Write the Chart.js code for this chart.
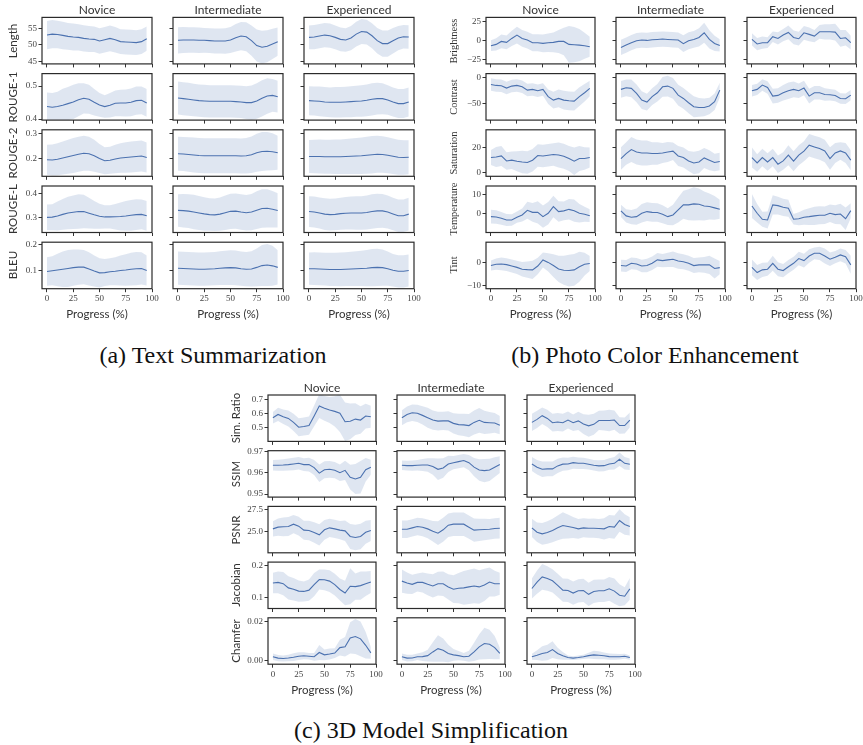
<!DOCTYPE html>
<html><head><meta charset="utf-8">
<script src="https://cdn.jsdelivr.net/npm/chart.js@4.4.1/dist/chart.umd.min.js"></script>
<style>
html,body{margin:0;padding:0;background:#fff;}
#root{position:relative;width:863px;height:745px;overflow:hidden;background:#fff;}
canvas{position:absolute;}
.t{position:absolute;white-space:nowrap;color:#333;transform:translate(-50%,-50%);line-height:1;}
.r{position:absolute;white-space:nowrap;color:#333;transform:translate(-50%,-50%) rotate(-90deg);line-height:1;}
</style></head>
<body><div id="root"></div>
<script>
const progress = [0,5,10,15,20,25,30,35,40,45,50,55,60,65,70,75,80,85,90,95];
const levels = ['Novice','Intermediate','Experienced'];
const xTicks = [0,25,50,75,100];
const xTickLabels = ['0','25','50','75','100'];

// ---------- (a) Text Summarization ----------
const lengthNovice = [53.0,53.3,53.2,52.9,52.6,52.4,52.3,52.0,51.8,51.7,51.2,51.6,52.0,51.6,51.0,50.9,50.8,50.7,51.0,51.9];
const lengthNoviceSd = [4.3,4.3,4.2,4.2,4.1,4.1,4.0,4.0,4.0,3.9,3.9,3.9,3.9,3.9,3.8,3.8,3.8,3.8,3.8,3.7];
const lengthInter = [51.4,51.5,51.5,51.5,51.4,51.4,51.3,51.2,51.2,51.2,51.5,52.2,52.7,52.5,51.3,49.8,49.3,49.6,50.3,51.0];
const lengthInterSd = [4.0,4.0,3.9,3.9,3.9,3.8,3.8,3.8,3.8,3.9,4.0,4.2,4.3,4.4,4.6,4.9,5.0,4.9,4.6,4.3];
const lengthExp = [52.3,52.4,52.7,53.0,52.8,52.3,51.7,51.5,52.1,53.3,54.1,53.9,52.8,51.3,50.4,50.4,51.3,52.1,52.5,52.4];
const lengthExpSd = [3.6,3.7,3.7,3.7,3.7,3.6,3.6,3.6,3.7,3.8,3.8,3.8,3.8,3.9,4.0,4.0,3.9,3.7,3.6,3.6];

const rouge1Novice = [.438,.436,.438,.442,.447,.452,.459,.463,.460,.451,.443,.438,.442,.448,.449,.449,.451,.456,.457,.449];
const rouge1NoviceSd = [.043,.043,.045,.050,.050,.052,.050,.046,.044,.040,.036,.034,.037,.039,.040,.041,.042,.043,.042,.042];
const rouge1Inter = [.464,.462,.460,.458,.456,.455,.454,.454,.454,.454,.454,.453,.452,.450,.450,.455,.463,.470,.472,.468];
const rouge1InterSd = [.050,.050,.050,.049,.049,.049,.049,.049,.049,.049,.049,.049,.049,.050,.052,.054,.055,.054,.050,.048];
const rouge1Exp = [.456,.455,.454,.452,.451,.451,.451,.452,.453,.454,.455,.457,.460,.462,.462,.458,.452,.447,.447,.452];
const rouge1ExpSd = [.044,.044,.045,.045,.045,.046,.046,.046,.047,.047,.048,.048,.049,.048,.047,.045,.044,.044,.044,.044];

const rouge2Novice = [.196,.195,.198,.203,.208,.213,.218,.222,.220,.212,.201,.192,.194,.199,.203,.205,.207,.209,.211,.205];
const rouge2NoviceSd = [.060,.062,.064,.066,.068,.070,.070,.070,.068,.064,.058,.054,.054,.057,.059,.061,.062,.062,.062,.060];
const rouge2Inter = [.220,.219,.217,.215,.213,.212,.212,.212,.212,.212,.212,.212,.211,.212,.216,.224,.229,.230,.228,.224];
const rouge2InterSd = [.068,.068,.069,.070,.070,.070,.070,.070,.070,.070,.070,.070,.070,.071,.073,.076,.078,.077,.074,.068];
const rouge2Exp = [.209,.209,.209,.208,.208,.208,.208,.209,.210,.211,.212,.214,.216,.218,.217,.214,.210,.206,.205,.206];
const rouge2ExpSd = [.066,.067,.068,.068,.068,.069,.069,.070,.071,.072,.073,.074,.075,.074,.073,.072,.071,.070,.069,.068];

const rougeLNovice = [.299,.300,.305,.312,.318,.321,.324,.324,.317,.310,.304,.301,.301,.302,.303,.305,.308,.311,.312,.306];
const rougeLNoviceSd = [.055,.056,.062,.066,.070,.072,.074,.072,.066,.060,.054,.050,.050,.055,.060,.064,.066,.066,.064,.064];
const rougeLInter = [.329,.328,.326,.322,.318,.314,.311,.310,.313,.319,.325,.326,.322,.319,.322,.330,.337,.338,.334,.329];
const rougeLInterSd = [.070,.072,.073,.074,.073,.072,.070,.070,.072,.074,.076,.076,.076,.076,.078,.081,.083,.082,.079,.074];
const rougeLExp = [.324,.322,.318,.313,.311,.312,.315,.317,.318,.318,.318,.320,.324,.327,.327,.322,.314,.306,.306,.313];
const rougeLExpSd = [.066,.067,.067,.068,.068,.068,.069,.070,.071,.072,.072,.073,.074,.074,.073,.071,.070,.070,.070,.070];

const bleuNovice = [.097,.100,.103,.106,.109,.112,.114,.114,.107,.099,.092,.093,.096,.098,.101,.103,.106,.108,.109,.101];
const bleuNoviceSd = [.055,.056,.063,.068,.071,.070,.068,.066,.064,.060,.056,.052,.052,.054,.058,.061,.063,.064,.062,.058];
const bleuInter = [.110,.109,.108,.107,.106,.106,.107,.108,.110,.111,.112,.111,.108,.106,.107,.113,.120,.122,.119,.113];
const bleuInterSd = [.064,.064,.064,.064,.064,.064,.064,.064,.065,.066,.067,.067,.066,.066,.068,.073,.079,.081,.077,.066];
const bleuExp = [.108,.108,.107,.106,.105,.105,.105,.106,.107,.108,.109,.110,.112,.113,.112,.108,.102,.098,.098,.101];
const bleuExpSd = [.062,.063,.063,.063,.064,.064,.065,.065,.066,.067,.068,.070,.072,.072,.070,.066,.063,.062,.062,.062];

// ---------- (b) Photo Color Enhancement ----------
const brightnessNovice = [-6.5,-4.8,-0.9,-2.2,3.0,7.4,3.0,0.9,-2.6,-2.6,-3.5,-2.6,-2.2,-0.9,-0.9,-4.8,-5.2,-5.7,-6.5,-7.8];
const brightnessNoviceSd = [7,8,9,9,10,11,11,11,11,11,11.5,12,13,15,18,24,23,21,17,13];
const brightnessInter = [-8.7,-5.7,-2.6,0,0.9,0.4,1.3,1.7,2.2,1.7,1.3,0.9,-3.9,0,1.7,4.3,10.4,1.7,-3.5,-6.1];
const brightnessInterSd = [10,10,10,10,10,10,10,10,10,10,10,10,11,11,11,12,13,12,10,8];
const brightnessExp = [1.7,-4.3,-2.6,-2.6,5.2,3.0,7.4,10.9,4.3,2.6,10.4,8.3,6.1,11.7,11.7,11.7,11.3,3.0,3.9,-2.6];
const brightnessExpSd = [8,8,8,7,7,8,8,9,9,9,9,9,8,9,10,10,11,11,10,9];

const contrastNovice = [-13.5,-15.4,-16,-20.5,-16.7,-15.4,-18,-24.4,-23,-25.6,-23,-37,-43.6,-40.4,-43.6,-44.9,-45.5,-37,-29.5,-21.2];
const contrastNoviceSd = [12,12,12,12,12,12,12,12,12,12,12,14,16,17,18,18,18,18,17,15];
const contrastInter = [-23,-20,-21,-30.8,-43.6,-47.4,-37,-29.5,-18,-16.7,-21,-34,-40.4,-48.7,-56.4,-57.7,-57.7,-55,-46.8,-24.4];
const contrastInterSd = [16,16,17,17,17,16,16,17,19,20,20,20,20,20,20,18,17,16,16,14];
const contrastExp = [-25.6,-23,-14.7,-19.2,-35.9,-34.6,-29.5,-25.6,-23,-25.6,-20.5,-35.9,-29.5,-29.5,-32.7,-33.3,-34.6,-40.4,-41,-34];
const contrastExpSd = [11,11,11,12,14,14,15,16,15,14,14,14,13,13,12,11,11,10,10,10];

const saturationNovice = [12,12.5,13.3,9.3,9.9,9.1,8.5,8,9.9,13.6,13.3,13.9,14.4,14.1,13.1,11.2,9.1,11.2,11.2,12];
const saturationNoviceSd = [6,8,8,7,7,8,9,9,9,9,9,9,9,10,10,10,11,10,9,8];
const saturationInter = [11.2,15.2,18.4,16.5,15.7,15.7,15.2,15.2,15.7,16.5,17.1,13.3,12,9.3,7.7,8.5,11.7,9.9,8,8.8];
const saturationInterSd = [9,9,10,10,10,10,9,9,8,8,7,8,8,8,9,9,8,8,7,7];
const saturationExp = [12,7.7,12,8.5,12,6.7,9.3,13.9,9.1,13.9,17.1,21.9,20.5,19.2,17.3,11.2,15.7,17.3,15.7,9.9];
const saturationExpSd = [8,7,7,7,7,7,7,8,8,8,8,9,9,9,9,9,8,7,8,8];

const temperatureNovice = [-1.8,-2,-2.7,-3.6,-3.6,-2.1,-0.9,1.6,0.5,0.5,-1.8,0,3.6,0.9,1.3,2.1,1.4,0,-0.5,-1.3];
const temperatureNoviceSd = [3.7,3.6,3.4,3.2,3.1,3.0,3.5,4.5,5,6,6,6,5.8,5.5,5,5.5,6,5,4,3.4];
const temperatureInter = [1.3,-1.4,-2.1,-1.8,0,0.9,0.5,0.4,-0.5,-1.8,-0.9,1.8,4.5,4.5,5,4.8,3.9,3.6,2.9,2.1];
const temperatureInterSd = [3.3,3.5,3.8,4.3,4.9,5,5,5,4.8,4.5,5.5,6.7,7.5,8.3,8.9,8.5,7.8,7,6.4,5.1];
const temperatureExp = [3.9,0,-3.2,-3.6,4.5,4.1,3.2,2.7,-3.2,-2.9,-2.1,-1.8,-1.4,-1.1,-1.1,0,-0.7,-0.4,-2.9,1.4];
const temperatureExpSd = [6.4,5,4,4.5,5.1,4.8,4.6,4.5,2.8,3.5,4,4.5,4.9,4.8,4.7,4.7,5,5.5,6,4];

const tintNovice = [-1.3,-0.7,-0.6,-0.9,-1.5,-2.1,-2.9,-3.1,-3.2,-1.5,1.2,0.1,-1.3,-2.8,-3.4,-3.5,-3.2,-1.8,-0.7,-0.4];
const tintNoviceSd = [2.2,2.5,2.8,2.8,2.9,2.9,3.2,3.6,4,3.6,3.3,4,5,5.8,6.4,7,7,6.6,5,3.3];
const tintInter = [-1.3,-1.5,-0.3,-0.6,-1.5,-1.3,-0.3,1.2,0.9,1.2,1.5,0.7,0.4,-0.3,-1.3,-1,-1,-1,-2.6,-2.2];
const tintInterSd = [2.6,2.6,2.6,2.6,2.8,3,3,3,2.9,3.1,3.4,3.4,3.3,3.3,3.3,3.3,3.5,4,4.4,2.9];
const tintExp = [-2.1,-4.4,-3.2,-2.9,-0.3,-2.9,-3.5,-1.8,-0.3,1.8,0.9,2.9,4.1,4.1,2.9,1.5,2.4,3.4,2.6,-1];
const tintExpSd = [3.5,3.3,3.1,2.9,3.3,3.1,2.9,2.9,2.9,3,3,3,2.6,2.9,3.3,3,2.7,2.8,3,4];

// ---------- (c) 3D Model Simplification ----------
const simRatioNovice = [.571,.595,.578,.566,.537,.502,.507,.514,.584,.656,.639,.627,.617,.603,.542,.545,.561,.554,.583,.578];
const simRatioNoviceSd = [.042,.048,.052,.058,.062,.066,.066,.066,.075,.087,.090,.094,.110,.135,.140,.130,.115,.100,.090,.080];
const simRatioInter = [.571,.595,.607,.603,.588,.571,.554,.546,.548,.548,.530,.521,.519,.514,.537,.552,.537,.535,.533,.517];
const simRatioInterSd = [.054,.057,.060,.063,.067,.072,.070,.068,.066,.070,.074,.078,.081,.084,.087,.090,.084,.078,.072,.066];
const simRatioExp = [.537,.559,.586,.566,.535,.540,.535,.554,.535,.548,.525,.512,.523,.551,.551,.551,.554,.514,.514,.554];
const simRatioExpSd = [.063,.062,.060,.062,.064,.066,.064,.062,.060,.066,.072,.080,.076,.070,.072,.078,.070,.060,.058,.054];

const ssimNovice = [.9635,.9635,.9636,.9638,.9641,.9644,.9638,.9638,.9624,.9598,.9614,.9616,.9612,.9600,.9611,.9579,.9571,.9579,.9614,.9626];
const ssimNoviceSd = [.0025,.0026,.0027,.0028,.0029,.0029,.0030,.0032,.0035,.0041,.0040,.0039,.0038,.0039,.0045,.0058,.0070,.0076,.0055,.0035];
const ssimInter = [.9635,.9633,.9633,.9635,.9636,.9636,.9629,.9616,.9622,.9641,.9647,.9652,.9657,.9647,.9626,.9613,.9610,.9613,.9626,.9638];
const ssimInterSd = [.0022,.0023,.0024,.0025,.0028,.0032,.0039,.0050,.0046,.0038,.0031,.0031,.0031,.0036,.0043,.0050,.0054,.0052,.0046,.0039];
const ssimExp = [.9641,.9626,.9616,.9618,.9618,.9632,.9640,.9641,.9647,.9644,.9644,.9640,.9635,.9632,.9633,.9641,.9644,.9663,.9644,.9640];
const ssimExpSd = [.0033,.0034,.0036,.0035,.0034,.0033,.0031,.0029,.0028,.0027,.0026,.0025,.0025,.0026,.0026,.0027,.0029,.0031,.0029,.0027];

const psnrNovice = [25.27,25.47,25.51,25.55,25.82,25.59,25.12,25.08,24.84,24.57,25.16,25.39,25.27,25.12,25.04,24.38,24.26,24.38,24.88,25.08];
const psnrNoviceSd = [.90,1.0,1.1,1.1,1.07,1.09,1.11,1.15,1.2,1.25,1.15,1.07,1.07,1.07,1.2,1.46,1.5,1.5,1.35,1.23];
const psnrInter = [25.23,25.23,25.39,25.55,25.47,25.27,25.0,24.77,25.16,25.7,25.82,25.82,25.82,25.47,25.12,25.16,25.2,25.23,25.31,25.35];
const psnrInterSd = [1.02,1.02,1.02,1.02,1.05,1.1,1.2,1.4,1.4,1.37,1.37,1.37,1.37,1.37,1.37,1.3,1.25,1.21,1.21,1.21];
const psnrExp = [25.39,24.88,24.69,24.84,25.08,25.39,25.66,25.55,25.43,25.27,25.39,25.35,25.35,25.31,25.27,25.55,25.47,26.25,25.78,25.55];
const psnrExpSd = [1.07,1.15,1.27,1.32,1.37,1.45,1.56,1.4,1.23,1.15,1.11,1.11,1.12,1.13,1.25,1.35,1.37,1.31,1.2,1.07];

const jacobianNovice = [.146,.148,.144,.131,.127,.121,.120,.124,.141,.157,.156,.152,.141,.126,.115,.136,.135,.138,.144,.149];
const jacobianNoviceSd = [.032,.034,.036,.036,.035,.033,.031,.033,.036,.031,.032,.034,.034,.034,.038,.056,.041,.044,.038,.034];
const jacobianInter = [.152,.146,.142,.148,.148,.142,.137,.144,.144,.134,.127,.130,.131,.134,.137,.134,.140,.149,.144,.144];
const jacobianInterSd = [.036,.033,.030,.028,.031,.034,.036,.037,.038,.039,.043,.047,.052,.053,.054,.052,.050,.045,.040,.034];
const jacobianExp = [.129,.149,.165,.160,.153,.139,.124,.123,.115,.122,.123,.111,.120,.122,.122,.128,.121,.108,.105,.128];
const jacobianExpSd = [.031,.036,.040,.038,.036,.036,.036,.036,.036,.036,.036,.036,.036,.035,.035,.037,.039,.034,.028,.034];

const chamferNovice = [.0021,.0014,.0012,.0015,.0019,.0024,.0026,.0024,.0021,.0043,.0031,.0035,.0040,.0068,.0072,.0118,.0125,.0113,.0080,.0041];
const chamferNoviceSd = [.0017,.0016,.0015,.0017,.0020,.0020,.0018,.0017,.0020,.0038,.0028,.0028,.0025,.0040,.0050,.0080,.0090,.0089,.0068,.0030];
const chamferInter = [.0021,.0014,.0015,.0021,.0022,.0027,.0046,.0063,.0055,.0038,.0031,.0027,.0021,.0024,.0046,.0072,.0089,.0085,.0068,.0038];
const chamferInterSd = [.0017,.0017,.0017,.0017,.0022,.0030,.0050,.0068,.0060,.0045,.0030,.0024,.0020,.0028,.0047,.0065,.0081,.0075,.0060,.0030];
const chamferExp = [.0021,.0029,.0038,.0043,.0058,.0038,.0026,.0017,.0014,.0017,.0021,.0027,.0031,.0029,.0026,.0022,.0021,.0021,.0024,.0017];
const chamferExpSd = [.0015,.0025,.0037,.0040,.0043,.0030,.0020,.0011,.0010,.0010,.0011,.0015,.0021,.0020,.0017,.0016,.0015,.0014,.0013,.0011];

// ---------- y tick values and labels ----------
const lengthTicks = [45,50,55], lengthTickLabels = ['45','50','55'];
const rouge1Ticks = [0.4,0.5], rouge1TickLabels = ['0.4','0.5'];
const rouge2Ticks = [0.2,0.3], rouge2TickLabels = ['0.2','0.3'];
const rougeLTicks = [0.3,0.4], rougeLTickLabels = ['0.3','0.4'];
const bleuTicks = [0.1,0.2], bleuTickLabels = ['0.1','0.2'];
const brightnessTicks = [-25,0,25], brightnessTickLabels = ['\u221225','0','25'];
const contrastTicks = [-50,0], contrastTickLabels = ['\u221250','0'];
const saturationTicks = [0,20], saturationTickLabels = ['0','20'];
const temperatureTicks = [0,10], temperatureTickLabels = ['0','10'];
const tintTicks = [-10,0], tintTickLabels = ['\u221210','0'];
const simRatioTicks = [0.5,0.6,0.7], simRatioTickLabels = ['0.5','0.6','0.7'];
const ssimTicks = [0.95,0.96,0.97], ssimTickLabels = ['0.95','0.96','0.97'];
const psnrTicks = [25,27.5], psnrTickLabels = ['25.0','27.5'];
const jacobianTicks = [0.1,0.2], jacobianTickLabels = ['0.1','0.2'];
const chamferTicks = [0,0.02], chamferTickLabels = ['0.00','0.02'];

// ---------- layout ----------
const groups = [
  {caption:'(a) Text Summarization', capX:213, capY:355,
   lefts:[42,173,304], width:110, tops:[17.4,73.6,129.8,186,242.2], height:46.5,
   labelX:12, labelFont:"11.5px Lato", titleY:9, progressY:313,
   rows:[
    {label:'Length', min:44.2, max:58.4, ticks:lengthTicks, tl:lengthTickLabels, s:[[lengthNovice,lengthNoviceSd],[lengthInter,lengthInterSd],[lengthExp,lengthExpSd]]},
    {label:'ROUGE-1', min:0.397, max:0.538, ticks:rouge1Ticks, tl:rouge1TickLabels, s:[[rouge1Novice,rouge1NoviceSd],[rouge1Inter,rouge1InterSd],[rouge1Exp,rouge1ExpSd]]},
    {label:'ROUGE-2', min:0.13, max:0.316, ticks:rouge2Ticks, tl:rouge2TickLabels, s:[[rouge2Novice,rouge2NoviceSd],[rouge2Inter,rouge2InterSd],[rouge2Exp,rouge2ExpSd]]},
    {label:'ROUGE-L', min:0.234, max:0.434, ticks:rougeLTicks, tl:rougeLTickLabels, s:[[rougeLNovice,rougeLNoviceSd],[rougeLInter,rougeLInterSd],[rougeLExp,rougeLExpSd]]},
    {label:'BLEU', min:0.031, max:0.21, ticks:bleuTicks, tl:bleuTickLabels, s:[[bleuNovice,bleuNoviceSd],[bleuInter,bleuInterSd],[bleuExp,bleuExpSd]]}
   ]},
  {caption:'(b) Photo Color Enhancement', capX:655, capY:355,
   lefts:[486,616,747], width:109, tops:[17.4,73.6,129.8,186,242.2], height:46.5,
   labelX:452.5, labelFont:"10.5px 'Liberation Serif'", titleY:9, progressY:313,
   rows:[
    {label:'Brightness', min:-30.3, max:30.5, ticks:brightnessTicks, tl:brightnessTickLabels, s:[[brightnessNovice,brightnessNoviceSd],[brightnessInter,brightnessInterSd],[brightnessExp,brightnessExpSd]]},
    {label:'Contrast', min:-82, max:7.3, ticks:contrastTicks, tl:contrastTickLabels, s:[[contrastNovice,contrastNoviceSd],[contrastInter,contrastInterSd],[contrastExp,contrastExpSd]]},
    {label:'Saturation', min:-3, max:34.2, ticks:saturationTicks, tl:saturationTickLabels, s:[[saturationNovice,saturationNoviceSd],[saturationInter,saturationInterSd],[saturationExp,saturationExpSd]]},
    {label:'Temperature', min:-10.3, max:14.6, ticks:temperatureTicks, tl:temperatureTickLabels, s:[[temperatureNovice,temperatureNoviceSd],[temperatureInter,temperatureInterSd],[temperatureExp,temperatureExpSd]]},
    {label:'Tint', min:-11.5, max:9, ticks:tintTicks, tl:tintTickLabels, s:[[tintNovice,tintNoviceSd],[tintInter,tintInterSd],[tintExp,tintExpSd]]}
   ]},
  {caption:'(c) 3D Model Simplification', capX:431, capY:730,
   lefts:[268,397,527], width:108, tops:[395,450.7,506.4,562.1,617.8], height:46.4,
   labelX:235, labelFont:"11.5px Lato", titleY:387, progressY:689,
   rows:[
    {label:'Sim. Ratio', min:0.399, max:0.736, ticks:simRatioTicks, tl:simRatioTickLabels, s:[[simRatioNovice,simRatioNoviceSd],[simRatioInter,simRatioInterSd],[simRatioExp,simRatioExpSd]]},
    {label:'SSIM', min:0.9486, max:0.9703, ticks:ssimTicks, tl:ssimTickLabels, s:[[ssimNovice,ssimNoviceSd],[ssimInter,ssimInterSd],[ssimExp,ssimExpSd]]},
    {label:'PSNR', min:22.47, max:27.9, ticks:psnrTicks, tl:psnrTickLabels, s:[[psnrNovice,psnrNoviceSd],[psnrInter,psnrInterSd],[psnrExp,psnrExpSd]]},
    {label:'Jacobian', min:0.067, max:0.211, ticks:jacobianTicks, tl:jacobianTickLabels, s:[[jacobianNovice,jacobianNoviceSd],[jacobianInter,jacobianInterSd],[jacobianExp,jacobianExpSd]]},
    {label:'Chamfer', min:-0.0017, max:0.0221, ticks:chamferTicks, tl:chamferTickLabels, s:[[chamferNovice,chamferNoviceSd],[chamferInter,chamferInterSd],[chamferExp,chamferExpSd]]}
   ]}
];

const LINE = '#4c72b0';
const BAND = 'rgba(76,114,176,0.18)';
const TICKFONT = {family:"'Liberation Serif', 'DejaVu Serif', serif", size:9};
const root = document.getElementById('root');

const boxPlugin = {id:'box', afterDraw(chart){
  const a = chart.chartArea, ctx = chart.ctx;
  ctx.save(); ctx.strokeStyle = '#2b2b2b'; ctx.lineWidth = 1.2;
  ctx.strokeRect(a.left, a.top, a.right - a.left, a.bottom - a.top);
  ctx.restore();
}};

function addText(cls, txt, x, y, font, color){
  const d = document.createElement('div');
  d.className = cls; d.textContent = txt;
  d.style.left = x + 'px'; d.style.top = y + 'px'; d.style.font = font;
  if (color) d.style.color = color;
  root.appendChild(d);
}

function makePanel(g, r, c){
  const row = g.rows[r];
  const mean = row.s[c][0], sd = row.s[c][1];
  const left = g.lefts[c], top = g.tops[r], w = g.width, h = g.height;
  const cl = Math.floor(left - 40), ct = Math.floor(top - 8);
  const ML = left - cl, MT = top - ct, MR = 12;
  const cw = Math.ceil(ML + w + MR), ch = Math.ceil(MT + h + 20);
  const MB = ch - MT - h;
  const MRr = cw - ML - w;
  const cv = document.createElement('canvas');
  cv.width = cw; cv.height = ch;
  cv.style.left = cl + 'px'; cv.style.top = ct + 'px';
  cv.style.width = cw + 'px'; cv.style.height = ch + 'px';
  root.appendChild(cv);
  const bottomRow = r === g.rows.length - 1;
  const zeroPad = s => { s.paddingLeft = 0; s.paddingRight = 0; s.paddingTop = 0; s.paddingBottom = 0; };
  new Chart(cv, {
    type:'line',
    data:{datasets:[
      {data: progress.map((x,i)=>({x, y: mean[i]})), borderColor: LINE, borderWidth: 1.1, pointRadius: 0, fill: false, tension: 0},
      {data: progress.map((x,i)=>({x, y: mean[i] + sd[i]})), borderColor:'rgba(0,0,0,0)', borderWidth: 0, pointRadius: 0, backgroundColor: BAND, fill: '+1'},
      {data: progress.map((x,i)=>({x, y: mean[i] - sd[i]})), borderColor:'rgba(0,0,0,0)', borderWidth: 0, pointRadius: 0, fill: false}
    ]},
    options:{
      responsive:false, animation:false, devicePixelRatio:1, events:[],
      layout:{padding:{left:0, top:MT, right:MRr, bottom:0}},
      plugins:{legend:{display:false}, tooltip:{enabled:false}},
      scales:{
        x:{type:'linear', min:-4.75, max:100,
           afterBuildTicks: s => { s.ticks = xTicks.map(v => ({value:v})); },
           afterFit: s => { s.height = MB; zeroPad(s); },
           grid:{display:true, drawOnChartArea:false, drawTicks:true, tickLength:3.5, color:'#333', lineWidth:1},
           border:{display:false},
           ticks:{display: bottomRow, padding:1.5, font:TICKFONT, color:'#444', maxRotation:0, autoSkip:false,
                  callback:(v,i) => xTickLabels[i]}},
        y:{type:'linear', min:row.min, max:row.max,
           afterBuildTicks: s => { s.ticks = row.ticks.map(v => ({value:v})); },
           afterFit: s => { s.width = ML; zeroPad(s); },
           grid:{display:true, drawOnChartArea:false, drawTicks:true, tickLength:3.5, color:'#333', lineWidth:1},
           border:{display:false},
           ticks:{display: c === 0, padding:1.5, font:TICKFONT, color:'#444', autoSkip:false,
                  callback:(v,i) => row.tl[i]}}
      }
    },
    plugins:[boxPlugin]
  });
}

groups.forEach(g => {
  g.rows.forEach((row, r) => {
    for (let c = 0; c < 3; c++) makePanel(g, r, c);
    addText('r', row.label, g.labelX, g.tops[r] + g.height/2, g.labelFont);
  });
  levels.forEach((lv, c) => {
    const cx = g.lefts[c] + g.width/2;
    addText('t', lv, cx, g.titleY, "12px Lato");
    addText('t', 'Progress (%)', cx, g.progressY, "11.5px Lato");
  });
  addText('t', g.caption, g.capX, g.capY, "24px 'Liberation Serif'", '#111');
});
</script>
</body></html>
